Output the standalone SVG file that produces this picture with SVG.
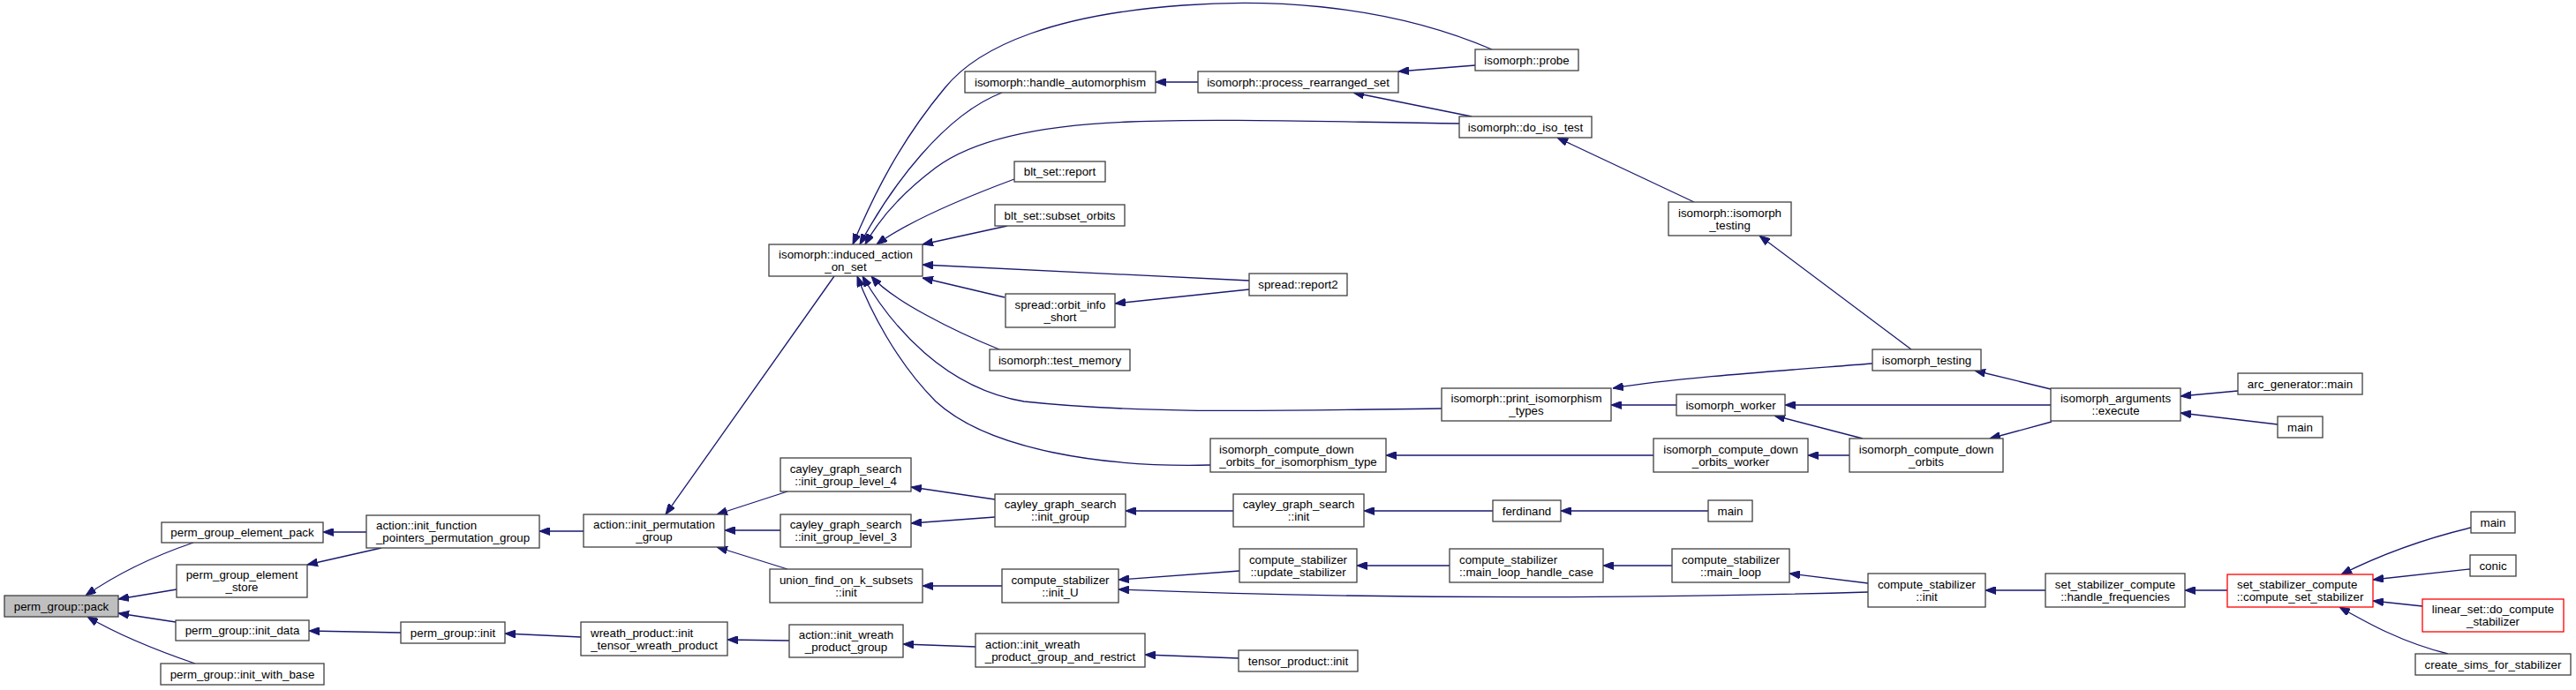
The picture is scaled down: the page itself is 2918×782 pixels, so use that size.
<svg xmlns="http://www.w3.org/2000/svg" width="2918" height="782" viewBox="0 0 2918 782">
<style>
.node rect{fill:#ffffff;stroke:#404040;stroke-width:1.3}
.node.root rect{fill:#bfbfbf}
.node.red rect{stroke:#ff0000}
.node text{font-family:"Liberation Sans",Arial,Helvetica,sans-serif;font-size:13.33px;fill:#000;text-anchor:middle}
.node text.s{text-anchor:start}
.edges path{fill:none;stroke:#191970;stroke-width:1.3;marker-end:url(#ah)}
</style>
<defs>
<marker id="ah" viewBox="0 0 12 9" refX="12" refY="4.5" markerUnits="userSpaceOnUse" markerWidth="12" markerHeight="9" orient="auto">
<path d="M0,0 L12,4.5 L0,9 z" fill="#191970" stroke="#191970" stroke-width="1"/>
</marker>
</defs>
<rect width="2918" height="782" fill="#ffffff"/>
<g class="edges">
<path d="M219,615 C175,630 130,652 97,675"/>
<path d="M200,668 L134,679"/>
<path d="M199,705 L134,695"/>
<path d="M221,752 C180,738 135,720 99,699"/>
<path d="M415,603 L366,603"/>
<path d="M432,621 L348,640"/>
<path d="M454,717 L350,715"/>
<path d="M661,602 L611,602"/>
<path d="M658,722 L572,718"/>
<path d="M894,726 L824,725"/>
<path d="M1105,733 L1023,730"/>
<path d="M1403,746 L1297,742"/>
<path d="M945,313 L754,583"/>
<path d="M892,557 L812,583"/>
<path d="M884,601 L821,601"/>
<path d="M892,645 L812,620"/>
<path d="M1127,566 L1032,552"/>
<path d="M1127,586 L1032,593"/>
<path d="M1397,579 L1275,579"/>
<path d="M1691,579 L1545,579"/>
<path d="M1935,579 L1768,579"/>
<path d="M1135,664 L1045,664"/>
<path d="M1404,647 L1267,657"/>
<path d="M2116,671 C1800,680 1500,677 1267,668"/>
<path d="M1642,641 L1537,641"/>
<path d="M1894,641 L1816,641"/>
<path d="M2116,661 L2027,650"/>
<path d="M2317,669 L2249,669"/>
<path d="M2523,669 L2475,669"/>
<path d="M2799,598 C2740,612 2690,632 2652,651"/>
<path d="M2798,645 L2688,657"/>
<path d="M2744,687 L2688,681"/>
<path d="M2773,741 C2720,728 2680,705 2650,688"/>
<path d="M2535,443 L2470,449"/>
<path d="M2580,481 L2470,468"/>
<path d="M2323,441 L2237,420"/>
<path d="M2323,459 L2022,459"/>
<path d="M2324,478 L2254,497"/>
<path d="M2121,412 C2020,420 1900,428 1827,440"/>
<path d="M1899,459 L1825,459"/>
<path d="M2110,497 L2010,471"/>
<path d="M2095,516 L2048,516"/>
<path d="M1873,516 L1570,516"/>
<path d="M2165,396 L1993,267"/>
<path d="M1919,229 L1764,156"/>
<path d="M1671,74 L1584,81"/>
<path d="M1667,132 L1533,105"/>
<path d="M1357,93 L1309,93"/>
<path d="M1690,56 C1560,0 1420,0 1340,6 C1200,16 1110,50 1070,100 C1020,160 990,220 966,277"/>
<path d="M1135,105 C1070,130 1010,210 974,277"/>
<path d="M1653,140 C1500,138 1380,134 1280,138 C1170,142 1100,160 1060,190 C1020,220 995,250 980,277"/>
<path d="M1149,203 C1090,225 1030,250 993,277"/>
<path d="M1141,256 L1045,277"/>
<path d="M1415,318 L1045,300"/>
<path d="M1138,337 L1045,315"/>
<path d="M1415,328 L1263,344"/>
<path d="M1132,396 C1080,375 1010,340 987,313"/>
<path d="M1633,463 C1450,465 1300,470 1160,455 C1070,440 1010,370 977,313"/>
<path d="M1371,527 C1250,530 1120,510 1060,455 C1015,410 985,350 971,313"/>
</g>
<g id="n_pack" class="node root"><rect x="5" y="675" width="129" height="24"/><text x="69.5" y="691.7">perm_group::pack</text></g>
<g id="n_pgep" class="node"><rect x="183" y="592" width="183" height="23"/><text x="274.5" y="608.2">perm_group_element_pack</text></g>
<g id="n_pges" class="node"><rect x="200" y="640" width="148" height="37"/><text x="274" y="656">perm_group_element</text><text x="274" y="670">_store</text></g>
<g id="n_initdata" class="node"><rect x="199" y="703" width="151" height="23"/><text x="274.5" y="719.2">perm_group::init_data</text></g>
<g id="n_initbase" class="node"><rect x="182" y="752" width="185" height="24"/><text x="274.5" y="768.7">perm_group::init_with_base</text></g>
<g id="n_aifp" class="node"><rect x="415" y="584" width="196" height="37"/><text class="s" x="426" y="600">action::init_function</text><text x="513" y="614">_pointers_permutation_group</text></g>
<g id="n_pginit" class="node"><rect x="454" y="705" width="118" height="24"/><text x="513" y="721.7">perm_group::init</text></g>
<g id="n_aipg" class="node"><rect x="661" y="583" width="160" height="37"/><text x="741" y="599">action::init_permutation</text><text x="741" y="613">_group</text></g>
<g id="n_wreath" class="node"><rect x="658" y="705" width="166" height="38"/><text class="s" x="669" y="721.5">wreath_product::init</text><text x="741" y="735.5">_tensor_wreath_product</text></g>
<g id="n_induced" class="node"><rect x="871" y="277" width="174" height="36"/><text x="958" y="292.5">isomorph::induced_action</text><text x="958" y="306.5">_on_set</text></g>
<g id="n_cgs4" class="node"><rect x="884" y="519" width="148" height="38"/><text x="958" y="535.5">cayley_graph_search</text><text x="958" y="549.5">::init_group_level_4</text></g>
<g id="n_cgs3" class="node"><rect x="884" y="583" width="148" height="37"/><text x="958" y="599">cayley_graph_search</text><text x="958" y="613">::init_group_level_3</text></g>
<g id="n_uf" class="node"><rect x="872" y="645" width="173" height="38"/><text x="958.5" y="661.5">union_find_on_k_subsets</text><text x="958.5" y="675.5">::init</text></g>
<g id="n_aiwpg" class="node"><rect x="894" y="708" width="129" height="37"/><text x="958.5" y="724">action::init_wreath</text><text x="958.5" y="738">_product_group</text></g>
<g id="n_handle" class="node"><rect x="1093" y="81" width="216" height="24"/><text x="1201" y="97.7">isomorph::handle_automorphism</text></g>
<g id="n_blt_report" class="node"><rect x="1149" y="183" width="103" height="23"/><text x="1200.5" y="199.2">blt_set::report</text></g>
<g id="n_blt_subset" class="node"><rect x="1127" y="232" width="147" height="24"/><text x="1200.5" y="248.7">blt_set::subset_orbits</text></g>
<g id="n_orbit_info" class="node"><rect x="1139" y="333" width="124" height="38"/><text x="1201" y="349.5">spread::orbit_info</text><text x="1201" y="363.5">_short</text></g>
<g id="n_test_memory" class="node"><rect x="1121" y="396" width="159" height="24"/><text x="1200.5" y="412.7">isomorph::test_memory</text></g>
<g id="n_cgs_group" class="node"><rect x="1127" y="560" width="148" height="37"/><text x="1201" y="576">cayley_graph_search</text><text x="1201" y="590">::init_group</text></g>
<g id="n_initU" class="node"><rect x="1135" y="645" width="132" height="38"/><text x="1201" y="661.5">compute_stabilizer</text><text x="1201" y="675.5">::init_U</text></g>
<g id="n_aiwpgr" class="node"><rect x="1105" y="718" width="192" height="38"/><text class="s" x="1116" y="734.5">action::init_wreath</text><text x="1201" y="748.5">_product_group_and_restrict</text></g>
<g id="n_process" class="node"><rect x="1357" y="81" width="227" height="24"/><text x="1470.5" y="97.7">isomorph::process_rearranged_set</text></g>
<g id="n_report2" class="node"><rect x="1415" y="310" width="111" height="25"/><text x="1470.5" y="327.2">spread::report2</text></g>
<g id="n_iso_type" class="node"><rect x="1371" y="497" width="199" height="38"/><text class="s" x="1381" y="513.5">isomorph_compute_down</text><text x="1470.5" y="527.5">_orbits_for_isomorphism_type</text></g>
<g id="n_cgs_init" class="node"><rect x="1397" y="560" width="148" height="37"/><text x="1471" y="576">cayley_graph_search</text><text x="1471" y="590">::init</text></g>
<g id="n_update" class="node"><rect x="1404" y="622" width="133" height="38"/><text x="1470.5" y="638.5">compute_stabilizer</text><text x="1470.5" y="652.5">::update_stabilizer</text></g>
<g id="n_tensor" class="node"><rect x="1403" y="737" width="135" height="24"/><text x="1470.5" y="753.7">tensor_product::init</text></g>
<g id="n_probe" class="node"><rect x="1671" y="56" width="117" height="24"/><text x="1729.5" y="72.7">isomorph::probe</text></g>
<g id="n_doiso" class="node"><rect x="1653" y="132" width="150" height="24"/><text x="1728" y="148.7">isomorph::do_iso_test</text></g>
<g id="n_print" class="node"><rect x="1633" y="440" width="192" height="37"/><text x="1729" y="456">isomorph::print_isomorphism</text><text x="1729" y="470">_types</text></g>
<g id="n_ferdinand" class="node"><rect x="1691" y="567" width="77" height="24"/><text x="1729.5" y="583.7">ferdinand</text></g>
<g id="n_mlhc" class="node"><rect x="1642" y="622" width="174" height="38"/><text class="s" x="1653" y="638.5">compute_stabilizer</text><text x="1729" y="652.5">::main_loop_handle_case</text></g>
<g id="n_isotesting" class="node"><rect x="1890" y="229" width="139" height="38"/><text x="1959.5" y="245.5">isomorph::isomorph</text><text x="1959.5" y="259.5">_testing</text></g>
<g id="n_worker" class="node"><rect x="1899" y="447" width="123" height="24"/><text x="1960.5" y="463.7">isomorph_worker</text></g>
<g id="n_orbits_worker" class="node"><rect x="1873" y="497" width="175" height="38"/><text x="1960.5" y="513.5">isomorph_compute_down</text><text x="1960.5" y="527.5">_orbits_worker</text></g>
<g id="n_main1" class="node"><rect x="1935" y="567" width="50" height="24"/><text x="1960" y="583.7">main</text></g>
<g id="n_mainloop" class="node"><rect x="1894" y="622" width="133" height="38"/><text x="1960.5" y="638.5">compute_stabilizer</text><text x="1960.5" y="652.5">::main_loop</text></g>
<g id="n_isomorph_testing" class="node"><rect x="2121" y="396" width="123" height="24"/><text x="2182.5" y="412.7">isomorph_testing</text></g>
<g id="n_down_orbits" class="node"><rect x="2095" y="497" width="174" height="38"/><text x="2182" y="513.5">isomorph_compute_down</text><text x="2182" y="527.5">_orbits</text></g>
<g id="n_cs_init" class="node"><rect x="2116" y="650" width="133" height="38"/><text x="2182.5" y="666.5">compute_stabilizer</text><text x="2182.5" y="680.5">::init</text></g>
<g id="n_execute" class="node"><rect x="2323" y="440" width="147" height="37"/><text x="2396.5" y="456">isomorph_arguments</text><text x="2396.5" y="470">::execute</text></g>
<g id="n_handle_freq" class="node"><rect x="2317" y="650" width="158" height="38"/><text x="2396" y="666.5">set_stabilizer_compute</text><text x="2396" y="680.5">::handle_frequencies</text></g>
<g id="n_arc" class="node"><rect x="2535" y="423" width="141" height="24"/><text x="2605.5" y="439.7">arc_generator::main</text></g>
<g id="n_main2" class="node"><rect x="2580" y="472" width="51" height="24"/><text x="2605.5" y="488.7">main</text></g>
<g id="n_css" class="node red"><rect x="2523" y="651" width="165" height="37"/><text class="s" x="2534" y="667">set_stabilizer_compute</text><text x="2605.5" y="681">::compute_set_stabilizer</text></g>
<g id="n_main3" class="node"><rect x="2799" y="580" width="50" height="24"/><text x="2824" y="596.7">main</text></g>
<g id="n_conic" class="node"><rect x="2798" y="629" width="52" height="24"/><text x="2824" y="645.7">conic</text></g>
<g id="n_linear" class="node red"><rect x="2744" y="679" width="160" height="37"/><text x="2824" y="695">linear_set::do_compute</text><text x="2824" y="709">_stabilizer</text></g>
<g id="n_create_sims" class="node"><rect x="2736" y="741" width="176" height="24"/><text x="2824" y="757.7">create_sims_for_stabilizer</text></g>
</svg>
